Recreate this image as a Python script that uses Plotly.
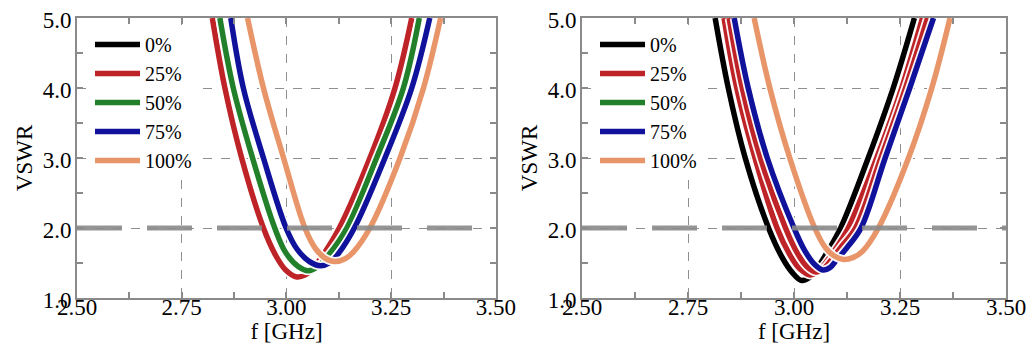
import plotly.graph_objects as go

# ---------------- data ----------------
series_names = ["0%", "25%", "50%", "75%", "100%"]
series_colors = ["#000000", "#BE2327", "#22802A", "#10129C", "#E8956A"]

# left panel
freq_L_25 = [2.823, 2.853, 2.893, 2.945, 2.975, 2.998, 3.025, 3.045, 3.060, 3.090, 3.126, 3.199, 3.259, 3.299]
vswr_L_25 = [5.0, 4.0, 3.0, 2.0, 1.60, 1.40, 1.30, 1.33, 1.40, 1.64, 2.0, 3.0, 4.0, 5.0]
freq_L_50 = [2.841, 2.873, 2.919, 2.972, 2.998, 3.028, 3.052, 3.075, 3.100, 3.144, 3.215, 3.279, 3.317]
vswr_L_50 = [5.0, 4.0, 3.0, 2.0, 1.65, 1.45, 1.39, 1.45, 1.61, 2.0, 3.0, 4.0, 5.0]
freq_L_75 = [2.867, 2.897, 2.945, 2.999, 3.025, 3.055, 3.082, 3.102, 3.122, 3.162, 3.235, 3.299, 3.342]
vswr_L_75 = [5.0, 4.0, 3.0, 2.0, 1.70, 1.52, 1.46, 1.50, 1.62, 2.0, 3.0, 4.0, 5.0]
freq_L_100 = [2.907, 2.945, 2.993, 3.044, 3.070, 3.092, 3.115, 3.140, 3.160, 3.199, 3.271, 3.327, 3.368]
vswr_L_100 = [5.0, 4.0, 3.0, 2.0, 1.70, 1.57, 1.52, 1.56, 1.66, 2.0, 3.0, 4.0, 5.0]

# right panel
freq_R_0 = [2.814, 2.845, 2.885, 2.940, 2.972, 2.995, 3.018, 3.038, 3.052, 3.078, 3.110, 3.175, 3.234, 3.284]
vswr_R_0 = [5.0, 4.0, 3.0, 2.0, 1.58, 1.37, 1.25, 1.30, 1.40, 1.65, 2.0, 3.0, 4.0, 5.0]
freq_R_25 = [2.835, 2.865, 2.908, 2.960, 2.990, 3.013, 3.038, 3.058, 3.072, 3.098, 3.128, 3.195, 3.254, 3.303]
vswr_R_25 = [5.0, 4.0, 3.0, 2.0, 1.62, 1.42, 1.33, 1.38, 1.48, 1.70, 2.0, 3.0, 4.0, 5.0]
freq_R_50 = [2.847, 2.878, 2.921, 2.980, 3.007, 3.030, 3.052, 3.070, 3.085, 3.110, 3.145, 3.205, 3.263, 3.315]
vswr_R_50 = [5.0, 4.0, 3.0, 2.0, 1.65, 1.45, 1.37, 1.42, 1.52, 1.72, 2.0, 3.0, 4.0, 5.0]
freq_R_75 = [2.859, 2.892, 2.937, 3.000, 3.025, 3.050, 3.068, 3.086, 3.100, 3.125, 3.158, 3.215, 3.273, 3.329]
vswr_R_75 = [5.0, 4.0, 3.0, 2.0, 1.68, 1.47, 1.40, 1.44, 1.54, 1.72, 2.0, 3.0, 4.0, 5.0]
freq_R_100 = [2.906, 2.943, 2.990, 3.049, 3.074, 3.095, 3.117, 3.140, 3.162, 3.199, 3.270, 3.325, 3.368]
vswr_R_100 = [5.0, 4.0, 3.0, 2.0, 1.72, 1.60, 1.55, 1.58, 1.67, 2.0, 3.0, 4.0, 5.0]

vswr_limit = 2.0
x_ticks = [2.50, 2.75, 3.00, 3.25, 3.50]
y_ticks = [1.0, 2.0, 3.0, 4.0, 5.0]

# ---------------- figure ----------------
FONT = "Liberation Serif, Times New Roman, serif"
LW = 5.5
GRAY = "#8a8a8a"

fig = go.Figure()


def add_curve(x, y, color, name, xa, ya, legend, showlegend=True, rank=1):
    # light halo under the line
    fig.add_trace(go.Scatter(x=x, y=y, mode="lines", showlegend=False, hoverinfo="skip",
                             xaxis=xa, yaxis=ya,
                             line=dict(color="rgba(255,255,255,0.95)", width=LW + 3.5,
                                       shape="spline", smoothing=1.0)))
    fig.add_trace(go.Scatter(x=x, y=y, mode="lines", name=name, legend=legend,
                             showlegend=showlegend, legendrank=rank, xaxis=xa, yaxis=ya,
                             line=dict(color=color, width=LW, shape="spline", smoothing=1.0)))


def add_legend_only(color, name, xa, ya, legend, rank):
    fig.add_trace(go.Scatter(x=[None], y=[None], mode="lines", name=name, legend=legend,
                             legendrank=rank, xaxis=xa, yaxis=ya,
                             line=dict(color=color, width=LW)))


# left panel
add_legend_only(series_colors[0], series_names[0], "x", "y", "legend", 1)
add_curve(freq_L_25, vswr_L_25, series_colors[1], series_names[1], "x", "y", "legend", rank=2)
add_curve(freq_L_50, vswr_L_50, series_colors[2], series_names[2], "x", "y", "legend", rank=3)
add_curve(freq_L_75, vswr_L_75, series_colors[3], series_names[3], "x", "y", "legend", rank=4)
add_curve(freq_L_100, vswr_L_100, series_colors[4], series_names[4], "x", "y", "legend", rank=5)

# right panel
add_curve(freq_R_0, vswr_R_0, series_colors[0], series_names[0], "x2", "y2", "legend2", rank=1)
add_curve(freq_R_25, vswr_R_25, series_colors[1], series_names[1], "x2", "y2", "legend2", rank=2)
add_legend_only(series_colors[2], series_names[2], "x2", "y2", "legend2", 3)
add_curve(freq_R_50, vswr_R_50, series_colors[1], series_names[2], "x2", "y2", "legend2",
          showlegend=False, rank=3)
add_curve(freq_R_75, vswr_R_75, series_colors[3], series_names[3], "x2", "y2", "legend2", rank=4)
add_curve(freq_R_100, vswr_R_100, series_colors[4], series_names[4], "x2", "y2", "legend2", rank=5)

# VSWR = 2 limit line
for xr, yr in (("x", "y"), ("x2", "y2")):
    fig.add_shape(type="line", xref=xr + " domain", yref=yr, x0=0, x1=1,
                  y0=vswr_limit, y1=vswr_limit, opacity=0.9,
                  line=dict(color=GRAY, width=5, dash="45px,25px"))

title_font = dict(family=FONT, size=23, color="black")
axis_common = dict(
    showline=True, linecolor=GRAY, linewidth=2, mirror="ticks",
    ticks="inside", ticklen=6, tickcolor=GRAY, tickwidth=1.5,
    showgrid=True, gridcolor="#8f8f8f", gridwidth=1.2, griddash="dash",
    zeroline=False, automargin=False, ticklabeloverflow="allow",
    tickfont=dict(family=FONT, size=23, color="black"),
)
xcommon = dict(range=[2.5, 3.5], tickvals=x_ticks, tickformat=".2f", ticklabelstandoff=-13,
               minor=dict(dtick=0.125, ticks="inside", ticklen=6, tickcolor=GRAY, showgrid=False),
               title=dict(text="f [GHz]", font=title_font, standoff=30), **axis_common)
ycommon = dict(range=[1.0, 5.0], tickvals=y_ticks, tickformat=".1f", ticklabelstandoff=-1,
               ticklabelshift=2,
               minor=dict(dtick=0.5, ticks="inside", ticklen=6, tickcolor=GRAY, showgrid=False),
               title=dict(text="VSWR", font=title_font, standoff=4), **axis_common)

legend_common = dict(bgcolor="white", borderwidth=0, font=dict(family=FONT, size=20, color="black"),
                     yanchor="top", xanchor="left", y=0.975, itemwidth=45, tracegroupgap=0)

# page body adds an 8px margin: figure is sized so the whole page fits the window
fig.update_layout(
    width=1018, height=336,
    margin=dict(l=69, r=20, t=10, b=46),
    paper_bgcolor="white", plot_bgcolor="white",
    font=dict(family=FONT, size=20, color="black"),
    xaxis=dict(domain=[0, 0.451], anchor="y", **xcommon),
    yaxis=dict(domain=[0, 1], anchor="x", **ycommon),
    xaxis2=dict(domain=[0.5436, 1], anchor="y2", **xcommon),
    yaxis2=dict(domain=[0, 1], anchor="x2", **ycommon),
    legend=dict(x=0.014, **legend_common),
    legend2=dict(x=0.5576, **legend_common),
)

fig.write_html("out.html")
